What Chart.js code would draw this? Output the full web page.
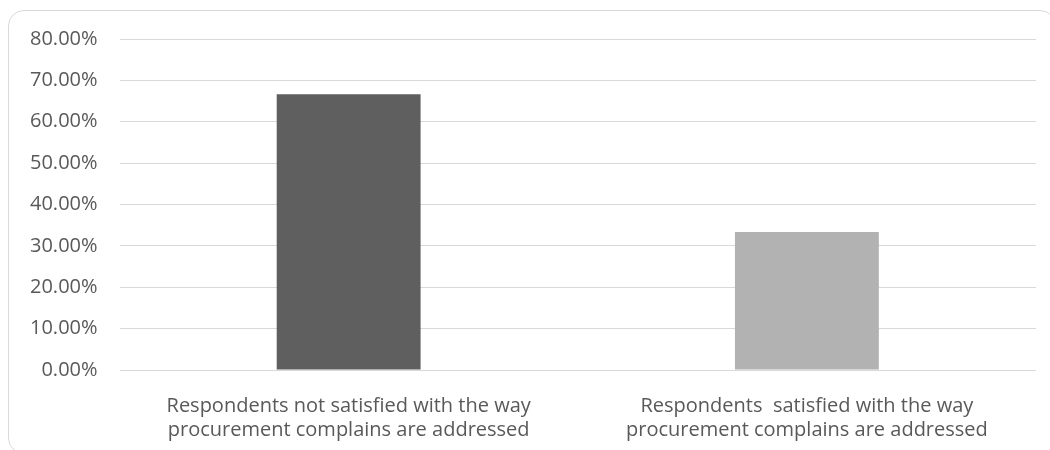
<!DOCTYPE html>
<html>
<head>
<meta charset="utf-8">
<script src="https://cdn.jsdelivr.net/npm/chart.js@4/dist/chart.umd.min.js"></script>
<style>
  html, body { margin: 0; padding: 0; background: #fff; overflow: hidden; }
  .frame {
    position: absolute; left: 8px; top: 10px; width: 1048px; height: 444px;
    border: 1px solid #d9d9d9; border-radius: 16px; box-sizing: border-box;
  }
  .wrap { position: absolute; left: 0; top: 0; width: 1050px; height: 458px; }
</style>
</head>
<body>
<div class="frame"></div>
<div class="wrap"><canvas id="chart"></canvas></div>
<script>
// ─── DATA ───
const categories = [
  ['Respondents not satisfied with the way', 'procurement complains are addressed'],
  ['Respondents  satisfied with the way', 'procurement complains are addressed']
];
const values = [66.67, 33.33];
const barColors = ['#5f5f5f', '#b2b2b2'];
const yTicks = { min: 0, max: 80, step: 10 };

const FONT = '"Open Sans", sans-serif';

new Chart(document.getElementById('chart'), {
  type: 'bar',
  data: {
    labels: categories,
    datasets: [{
      data: values,
      backgroundColor: barColors,
      borderWidth: 0,
      barPercentage: 1,
      categoryPercentage: 0.314,
    }]
  },
  options: {
    responsive: true,
    maintainAspectRatio: false,
    animation: false,
    layout: { padding: { left: 8, right: 14, top: 39, bottom: 0 } },
    plugins: {
      legend: { display: false },
      tooltip: { enabled: false }
    },
    scales: {
      x: {
        grid: { display: false },
        border: { display: false },
        ticks: {
          color: '#595959',
          font: { size: 20, family: FONT },
          maxRotation: 0,
          padding: 16,
        }
      },
      y: {
        min: yTicks.min,
        max: yTicks.max,
        grid: { color: '#d9d9d9', lineWidth: 1, drawTicks: false },
        border: { display: false },
        ticks: {
          stepSize: yTicks.step,
          color: '#595959',
          font: { size: 20, family: FONT },
          padding: 22,
          callback: v => v.toFixed(2) + '%'
        }
      }
    }
  }
});
</script>
</body>
</html>
